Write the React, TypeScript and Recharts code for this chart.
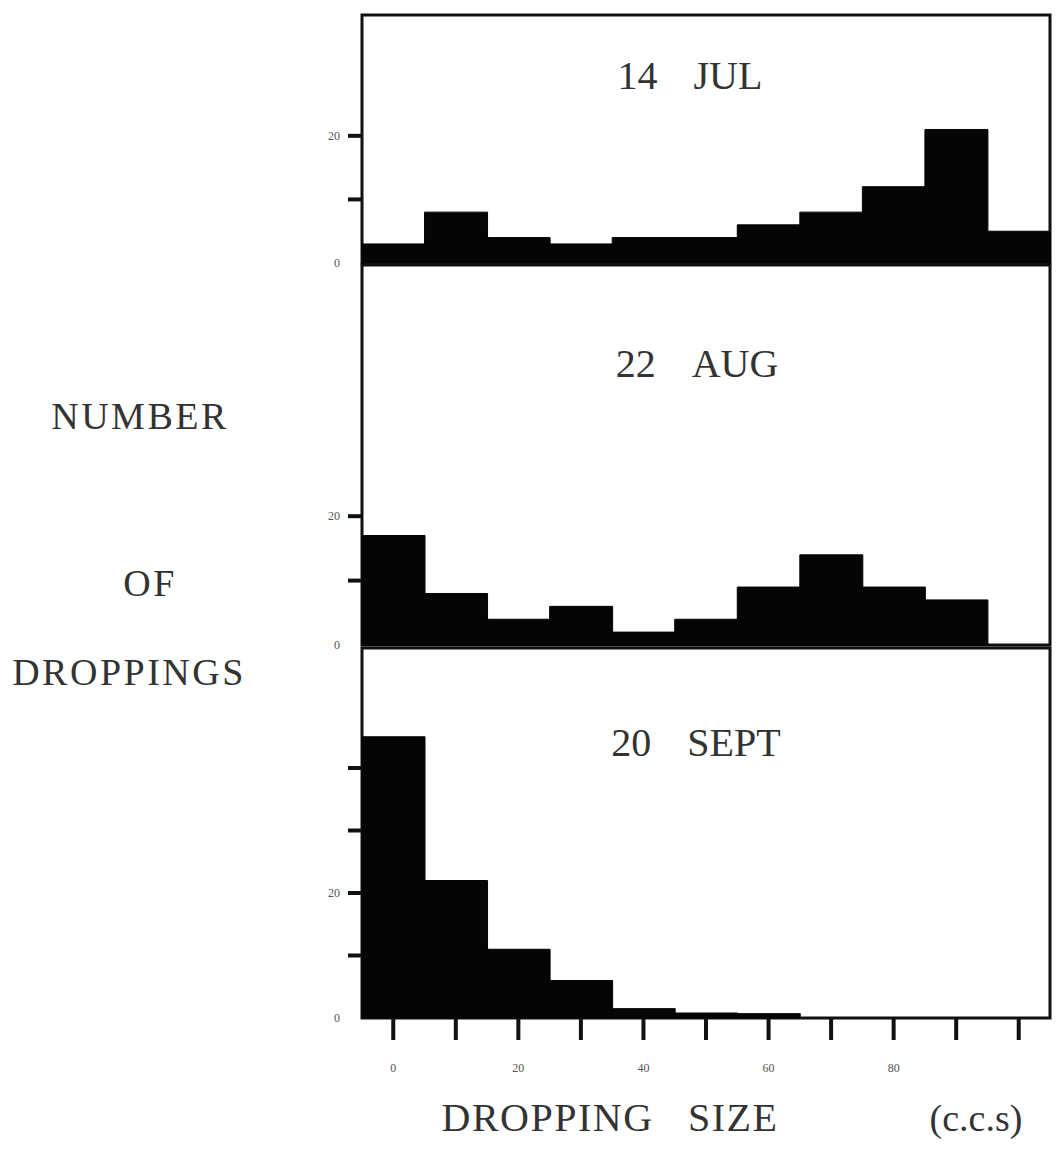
import React from 'react';
import { BarChart, Bar, XAxis, YAxis, ReferenceArea } from 'recharts';

const binCenters = [0, 10, 20, 30, 40, 50, 60, 70, 80, 90, 100];
const julCounts = [3, 8, 4, 3, 4, 4, 6, 8, 12, 21, 5];
const augCounts = [17, 8, 4, 6, 2, 4, 9, 14, 9, 7, 0];
const septCounts = [45, 22, 11, 6, 1.5, 0.8, 0.7, 0, 0, 0, 0];

const xTicks = [0, 10, 20, 30, 40, 50, 60, 70, 80, 90, 100];
const xLabeled = [0, 20, 40, 60, 80];
const julYTicks = [0, 10, 20];
const augYTicks = [0, 10, 20];
const septYTicks = [0, 10, 20, 30, 40];
const yLabeled = [0, 20];

const panelTitles = [['14', 'JUL'], ['22', 'AUG'], ['20', 'SEPT']];
const sideLabels = ['NUMBER', 'OF', 'DROPPINGS'];
const xTitle = 'DROPPING   SIZE';
const xUnit = '(c.c.s)';

const build = (counts: number[]) => binCenters.map((c, i) => ({ size: c, count: counts[i] }));

const FONT = '"Liberation Serif", "DejaVu Serif", serif';

const YTick = (props: any) => {
  const { x, y, payload } = props;
  const v = payload.value;
  return (
    <g>
      {v !== 0 && <line x1={x - 14} x2={x} y1={y} y2={y} stroke="#111" strokeWidth={4} />}
      {yLabeled.includes(v) && (
        <text x={x - 22} y={y} dy="0.35em" textAnchor="end" fontSize={12} fill="#555" fontFamily={FONT}>
          {v}
        </text>
      )}
    </g>
  );
};

const XTick = (props: any) => {
  const { x, y, payload } = props;
  const v = payload.value;
  return (
    <g>
      <line x1={x} x2={x} y1={y} y2={y + 22} stroke="#111" strokeWidth={4} />
      {xLabeled.includes(v) && (
        <text x={x} y={y + 50} dy="0.35em" textAnchor="middle" fontSize={12} fill="#555" fontFamily={FONT}>
          {v}
        </text>
      )}
    </g>
  );
};

type PanelProps = {
  data: { size: number; count: number }[];
  yMax: number;
  yTicks: number[];
  top: number;
  height: number;
  marginTop: number;
  marginBottom: number;
  showX: boolean;
};

const Panel = ({ data, yMax, yTicks, top, height, marginTop, marginBottom, showX }: PanelProps) => (
  <div style={{ position: 'absolute', left: 0, top }}>
    <BarChart
      width={1064}
      height={height}
      data={data}
      margin={{ top: marginTop, right: 14, bottom: marginBottom, left: 300 }}
      barCategoryGap={0}
      barGap={0}
    >
      <XAxis
        dataKey="size"
        type="number"
        domain={[-5, 105]}
        ticks={xTicks}
        hide={!showX}
        height={showX ? 60 : 0}
        axisLine={false}
        tickLine={false}
        tickSize={0}
        tickMargin={0}
        tick={<XTick />}
        interval={0}
      />
      <YAxis
        type="number"
        domain={[0, yMax]}
        ticks={yTicks}
        width={62}
        axisLine={false}
        tickLine={false}
        tickSize={0}
        tickMargin={0}
        tick={<YTick />}
        interval={0}
      />
      <Bar dataKey="count" fill="#050505" stroke="#050505" strokeWidth={1} isAnimationActive={false} />
      <ReferenceArea
        x1={-5}
        x2={105}
        y1={0}
        y2={yMax}
        fill="none"
        fillOpacity={0}
        stroke="#111"
        strokeWidth={3}
        ifOverflow="visible"
      />
    </BarChart>
  </div>
);

const textStyle = (cx: number, cy: number, size: number): React.CSSProperties => ({
  position: 'absolute',
  left: cx,
  top: cy,
  transform: 'translate(-50%, -50%)',
  fontFamily: FONT,
  fontSize: size,
  color: '#333',
  whiteSpace: 'pre',
  lineHeight: 1,
});

const Title = ({ parts, cx, cy }: { parts: string[]; cx: number; cy: number }) => (
  <div style={{ ...textStyle(cx, cy, 40), wordSpacing: 0 }}>
    <span>{parts[0]}</span>
    <span style={{ display: 'inline-block', width: 36 }} />
    <span>{parts[1]}</span>
  </div>
);

export default function App() {
  return (
    <div style={{ position: 'absolute', left: 0, top: 0, width: 1064, height: 1149, background: '#fff', overflow: 'hidden' }}>
      <Panel data={build(julCounts)} yMax={39} yTicks={julYTicks} top={0} height={278} marginTop={15} marginBottom={15} showX={false} />
      <Panel data={build(augCounts)} yMax={59} yTicks={augYTicks} top={250} height={410} marginTop={15} marginBottom={15} showX={false} />
      <Panel data={build(septCounts)} yMax={59.2} yTicks={septYTicks} top={635} height={514} marginTop={13} marginBottom={71} showX={true} />

      <Title parts={panelTitles[0]} cx={690} cy={76} />
      <Title parts={panelTitles[1]} cx={697} cy={364} />
      <Title parts={panelTitles[2]} cx={696} cy={743} />

      <div style={{ ...textStyle(140, 416, 38), letterSpacing: 2.5 }}>{sideLabels[0]}</div>
      <div style={{ ...textStyle(150, 583, 38), letterSpacing: 2.5 }}>{sideLabels[1]}</div>
      <div style={{ ...textStyle(129, 672, 38), letterSpacing: 2.5 }}>{sideLabels[2]}</div>

      <div style={{ ...textStyle(610, 1118, 40), letterSpacing: 1.5 }}>{xTitle}</div>
      <div style={textStyle(976, 1118, 38)}>{xUnit}</div>
    </div>
  );
}
